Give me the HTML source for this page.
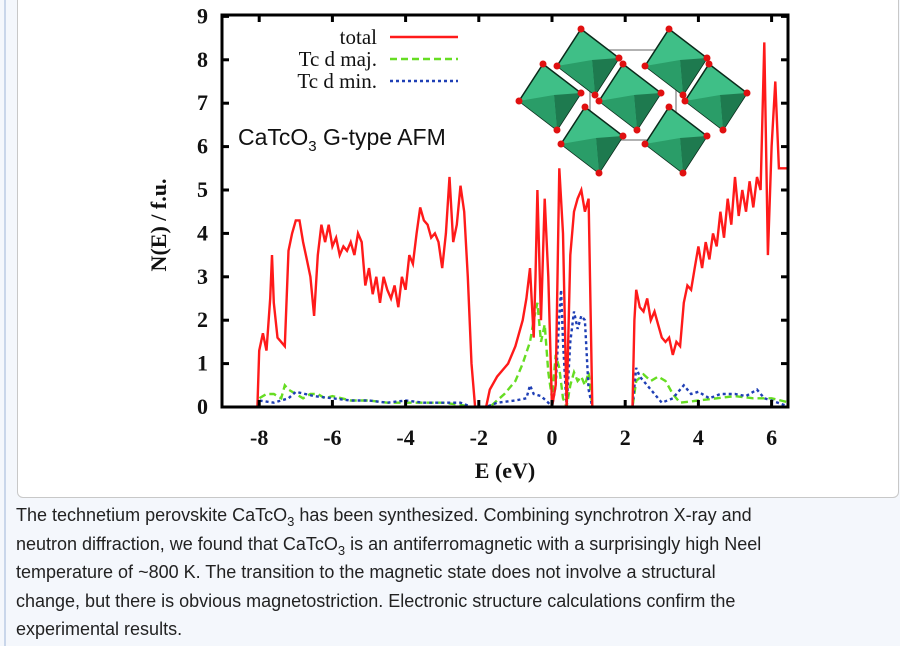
<!DOCTYPE html>
<html><head><meta charset="utf-8">
<style>
body{margin:0;width:900px;height:646px;background:#f4f7fc;overflow:hidden;font-family:"Liberation Sans",sans-serif;position:relative}
#leftline{position:absolute;left:4px;top:0;width:2px;height:646px;background:#c9d6ea}
#imgbox{position:absolute;left:17px;top:-6px;width:880px;height:502px;background:#fff;border:1px solid #c8c8c8;border-radius:6px}
#caption{position:absolute;left:16px;top:501px;width:762px;font-size:18px;line-height:28.6px;color:#222}
#caption sub{font-size:13px;vertical-align:-5px;line-height:0}
svg{position:absolute;left:0;top:0}
</style></head><body>
<div id="leftline"></div>
<div id="imgbox"></div>
<svg id="chart" width="900" height="500"></svg>
<div id="caption">The technetium perovskite CaTcO<sub>3</sub> has been synthesized. Combining synchrotron X-ray and neutron diffraction, we found that CaTcO<sub>3</sub> is an antiferromagnetic with a surprisingly high Neel temperature of ~800 K. The transition to the magnetic state does not involve a structural change, but there is obvious magnetostriction. Electronic structure calculations confirm the experimental results.</div>
<script>
const xTicks=[-8,-6,-4,-2,0,2,4,6];
const yTicks=[0,1,2,3,4,5,6,7,8,9];
const totalE=[-9,-8.05,-8.0,-7.9,-7.8,-7.7,-7.65,-7.6,-7.5,-7.3,-7.2,-7.1,-7.0,-6.9,-6.8,-6.7,-6.6,-6.5,-6.4,-6.3,-6.2,-6.1,-6.0,-5.9,-5.8,-5.7,-5.6,-5.5,-5.4,-5.3,-5.2,-5.1,-5.0,-4.9,-4.8,-4.7,-4.6,-4.5,-4.4,-4.3,-4.2,-4.1,-4.0,-3.9,-3.8,-3.7,-3.6,-3.5,-3.4,-3.3,-3.2,-3.1,-3.0,-2.9,-2.8,-2.7,-2.6,-2.5,-2.4,-2.3,-2.2,-2.1,-1.8,-1.7,-1.5,-1.2,-1.0,-0.8,-0.7,-0.6,-0.5,-0.45,-0.4,-0.3,-0.2,-0.1,0.0,0.1,0.2,0.3,0.4,0.5,0.6,0.7,0.8,0.9,1.0,1.1,2.2,2.25,2.3,2.4,2.5,2.6,2.7,2.8,2.9,3.0,3.1,3.2,3.3,3.4,3.5,3.6,3.7,3.8,3.9,4.0,4.1,4.2,4.3,4.4,4.5,4.6,4.7,4.8,4.9,5.0,5.1,5.2,5.3,5.4,5.5,5.6,5.7,5.8,5.9,6.0,6.1,6.2,6.5];
const totalN=[0,0,1.3,1.7,1.3,2.5,3.5,2.4,1.6,1.4,3.6,4.0,4.3,4.3,3.8,3.4,3.0,2.1,3.5,4.2,3.8,4.2,3.7,3.9,3.5,3.7,3.6,3.8,3.5,4.0,3.8,2.8,3.2,2.6,3.0,2.4,3.0,2.7,2.5,2.8,2.3,3.0,2.7,3.5,3.3,4.0,4.6,4.3,4.2,3.9,4.0,3.8,3.2,4.0,5.3,3.8,4.2,5.1,4.5,3.0,1.0,0,0,0.4,0.7,1.0,1.4,2.0,2.5,3.2,1.6,3.0,5.0,2.0,4.8,3.0,0,0.5,5.5,4.0,0,3.5,4.5,4.8,5.0,4.5,4.8,0,0,2.0,2.7,2.3,2.2,2.5,2.0,2.2,1.9,1.6,1.5,1.6,1.2,1.5,1.4,2.4,2.8,2.7,3.2,3.7,3.2,3.8,3.4,4.0,3.7,4.5,3.9,4.8,4.2,5.3,4.4,5.0,4.5,5.2,4.6,5.3,5.0,8.4,3.5,6.0,7.5,5.5,5.5];
const majE=[-9,-8.05,-8.0,-7.8,-7.6,-7.4,-7.3,-7.2,-7.0,-6.8,-6.6,-6.4,-6.2,-6.0,-5.5,-5.0,-4.5,-4.0,-3.5,-3.0,-2.5,-2.2,-1.7,-1.3,-1.0,-0.8,-0.6,-0.5,-0.4,-0.3,-0.2,-0.1,0.0,0.1,0.2,0.3,0.4,0.5,0.6,0.7,0.8,0.9,1.0,1.1,2.2,2.3,2.5,2.7,2.9,3.1,3.3,3.5,4.0,4.5,5.0,5.5,6.0,6.5];
const majN=[0,0,0.2,0.3,0.3,0.2,0.5,0.4,0.3,0.2,0.3,0.3,0.2,0.25,0.15,0.15,0.1,0.1,0.1,0.1,0.05,0,0,0.3,0.6,1.0,1.5,2.0,2.4,1.5,1.9,0.8,0.2,1.2,0.9,0.2,0,0.5,0.8,0.6,0.7,0.5,0.8,0,0,0.6,0.75,0.6,0.7,0.6,0.3,0.1,0.15,0.2,0.25,0.2,0.2,0.1];
const minE=[-9,-8.05,-8.0,-7.6,-7.2,-7.0,-6.5,-6.0,-5.5,-5.0,-4.5,-4.0,-3.5,-3.0,-2.5,-2.2,-1.8,-1.5,-1.0,-0.7,-0.6,-0.5,-0.3,-0.1,0.0,0.1,0.2,0.25,0.3,0.4,0.5,0.6,0.7,0.8,0.9,1.0,1.1,2.2,2.3,2.4,2.6,2.8,3.0,3.3,3.6,3.8,4.0,4.3,4.6,5.0,5.3,5.6,5.8,6.0,6.5];
const minN=[0,0,0.15,0.1,0.2,0.35,0.25,0.2,0.15,0.15,0.1,0.15,0.1,0.1,0.1,0,0,0.1,0.15,0.2,0.5,0.3,0.25,0.1,0,0.5,2.1,2.7,1.5,0,1.5,2.2,1.8,2.1,2.0,0.4,0,0,0.9,0.7,0.5,0.3,0.1,0.2,0.5,0.3,0.35,0.2,0.3,0.3,0.25,0.4,0.2,0.15,0];
const NS="http://www.w3.org/2000/svg";
const svg=document.getElementById('chart');
const X0=222,X1=788,Y0=407,Y1=15;
const sx=e=>552+e*36.6;
const sy=n=>407-n*43.4;
function mk(t,a,parent){const el=document.createElementNS(NS,t);for(const k in a)el.setAttribute(k,a[k]);(parent||svg).appendChild(el);return el;}
function line(E,N,color,dash,name){
  const d=E.map((e,i)=>(i?'L':'M')+sx(e).toFixed(1)+','+sy(N[i]).toFixed(1)).join('');
  const p=mk('path',{d:d,fill:'none',stroke:color,'stroke-width':2.4,'stroke-dasharray':dash,'clip-path':'url(#clip)'});
  
  
}
const defs=mk('defs',{});
const cp=mk('clipPath',{id:'clip'},defs);
mk('rect',{x:X0,y:Y1,width:X1-X0,height:Y0-Y1},cp);
line(majE,majN,'#66dd22','7,4','tc-d-maj-line');
line(minE,minN,'#1f3fb5','3,3','tc-d-min-line');
line(totalE,totalN,'#ff1a1a','','total-line');
// crystal structure inset
mk('rect',{x:590,y:50,width:86,height:90,fill:'none',stroke:'#999','stroke-width':1.5});
const oct=[[588,62],[676,62],[550,97],[630,97],[716,97],[592,140],[676,140]];
oct.forEach(([cx,cy],i)=>{
  const g=mk('g',{});
  
  
  const P=[[cx-7,cy-33],[cx+31,cy-4],[cx+7,cy+33],[cx-31,cy+4]];
  mk('polygon',{points:P.map(p=>p.join(',')).join(' '),fill:'#3fbf87',stroke:'#0a2a1a','stroke-width':1.5},g);
  mk('polygon',{points:[[cx+4,cy-2],P[1],P[2]].map(p=>p.join(',')).join(' '),fill:'#1e7a4f'},g);
  mk('polygon',{points:[[cx+4,cy-2],P[2],P[3]].map(p=>p.join(',')).join(' '),fill:'#2a9d68'},g);
  P.forEach(p=>mk('circle',{cx:p[0],cy:p[1],r:3.5,fill:'#e01010'},g));
});
// frame
const fr=mk('rect',{x:X0,y:Y1,width:X1-X0,height:Y0-Y1,fill:'none',stroke:'#000','stroke-width':3});


xTicks.forEach(v=>{
  mk('line',{x1:sx(v),x2:sx(v),y1:Y0,y2:Y0-7,stroke:'#000','stroke-width':3});
  mk('line',{x1:sx(v),x2:sx(v),y1:Y1,y2:Y1+7,stroke:'#000','stroke-width':3});
  const t=mk('text',{x:sx(v),y:445,'text-anchor':'middle','font-family':'Liberation Serif, serif','font-size':22,'font-weight':'bold',fill:'#111'});
  t.textContent=v;
  
  
});
yTicks.forEach(v=>{
  mk('line',{x1:X0,x2:X0+7,y1:sy(v),y2:sy(v),stroke:'#000','stroke-width':3});
  mk('line',{x1:X1,x2:X1-7,y1:sy(v),y2:sy(v),stroke:'#000','stroke-width':3});
  const t=mk('text',{x:208,y:sy(v)+7,'text-anchor':'end','font-family':'Liberation Serif, serif','font-size':22,'font-weight':'bold',fill:'#111'});
  t.textContent=v;
  
  
});
const xt=mk('text',{x:505,y:478,'text-anchor':'middle','font-family':'Liberation Serif, serif','font-size':22,'font-weight':'bold',fill:'#111'});
xt.textContent='E (eV)';


const yt=mk('text',{x:0,y:0,'text-anchor':'middle','font-family':'Liberation Serif, serif','font-size':22,'font-weight':'bold',fill:'#111',transform:'translate(166,225) rotate(-90)'});
yt.textContent='N(E) / f.u.';


// legend
const leg=[['total','#ff1a1a',''],['Tc d maj.','#66dd22','7,4'],['Tc d min.','#1f3fb5','3,3']];
leg.forEach((l,i)=>{
  const y=44+i*22;
  const t=mk('text',{x:377,y:y,'text-anchor':'end','font-family':'Liberation Serif, serif','font-size':21,fill:'#111'});
  t.textContent=l[0];
  
  
  const s=mk('line',{x1:390,x2:458,y1:y-7,y2:y-7,stroke:l[1],'stroke-width':2.4,'stroke-dasharray':l[2]});
  
  
});
const ti=mk('text',{x:238,y:145,'font-family':'Liberation Sans, sans-serif','font-size':23,fill:'#111'});
ti.innerHTML='CaTcO<tspan dy="6" font-size="15">3</tspan><tspan dy="-6"> G-type AFM</tspan>';


</script>
</body></html>
